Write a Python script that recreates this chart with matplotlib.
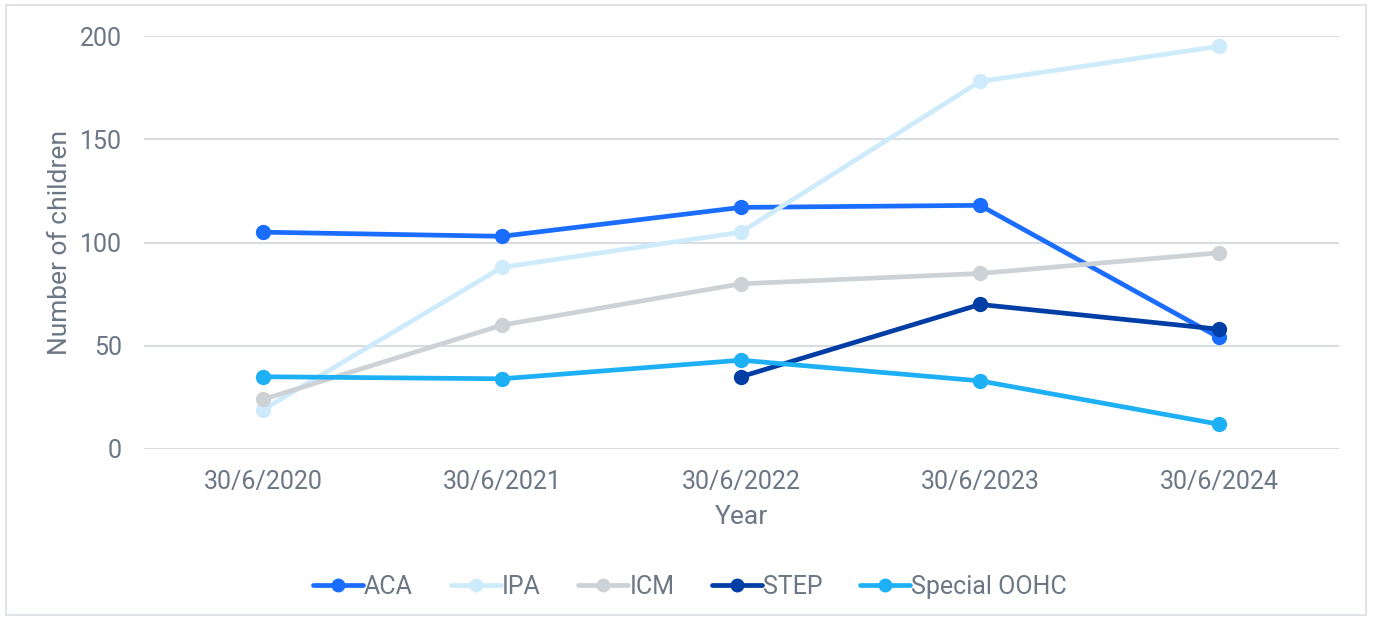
import matplotlib
matplotlib.use("Agg")
import matplotlib.pyplot as plt
from matplotlib.patches import Rectangle
import numpy as np

years = ["30/6/2020", "30/6/2021", "30/6/2022", "30/6/2023", "30/6/2024"]
aca = [105, 103, 117, 118, 54]
ipa = [19, 88, 105, 178, 195]
icm = [24, 60, 80, 85, 95]
step = [None, None, 35, 70, 58]
special = [35, 34, 43, 33, 12]

series = [
    ("ACA", aca, "#1A6DFF"),
    ("IPA", ipa, "#CDEBFB"),
    ("ICM", icm, "#CDD2D7"),
    ("STEP", step, "#003DA5"),
    ("Special OOHC", special, "#1EB0F5"),
]

plt.rcParams['font.family'] = ['Roboto', 'DejaVu Sans']
txt = "#6B7785"

fig = plt.figure(figsize=(13.73, 6.2), dpi=100)
fig.patches.append(Rectangle((6/1373, 5/620), 1360/1373, 610/620, transform=fig.transFigure,
                             fill=False, edgecolor="#D9DDE2", linewidth=1.2))
ax = fig.add_axes([143.5/1373, 1-449/620, 1195/1373, 413/620])

x = np.arange(len(years))
for name, vals, col in series:
    xs = [xi for xi, v in zip(x, vals) if v is not None]
    ys = [v for v in vals if v is not None]
    ax.plot(xs, ys, color=col, linewidth=3.4, marker="o", markersize=10, label=name,
            solid_capstyle="round")

ax.set_xlim(-0.5, 4.5)
ax.set_ylim(0, 200)
ax.set_yticks([0, 50, 100, 150, 200])
ax.set_xticks(x)
ax.set_xticklabels(years)
ax.grid(axis="y", color="#D9DDE2", linewidth=1.5)
ax.set_axisbelow(True)
for s in ax.spines.values():
    s.set_visible(False)
ax.tick_params(axis="both", length=0, labelsize=18, labelcolor=txt)
ax.tick_params(axis="y", pad=15.5)
ax.tick_params(axis="x", pad=15)
ax.set_xlabel("Year", fontsize=19, color=txt, labelpad=8)
ax.set_ylabel("Number of children", fontsize=19, color=txt, labelpad=6)

leg = fig.legend(loc="center", bbox_to_anchor=(690/1373, 1-587/620), ncol=5, frameon=False,
                 fontsize=18, labelcolor=txt, handlelength=2.0, handletextpad=0.05,
                 columnspacing=1.5, markerscale=0.9)

fig.savefig("out.png", dpi=100)
